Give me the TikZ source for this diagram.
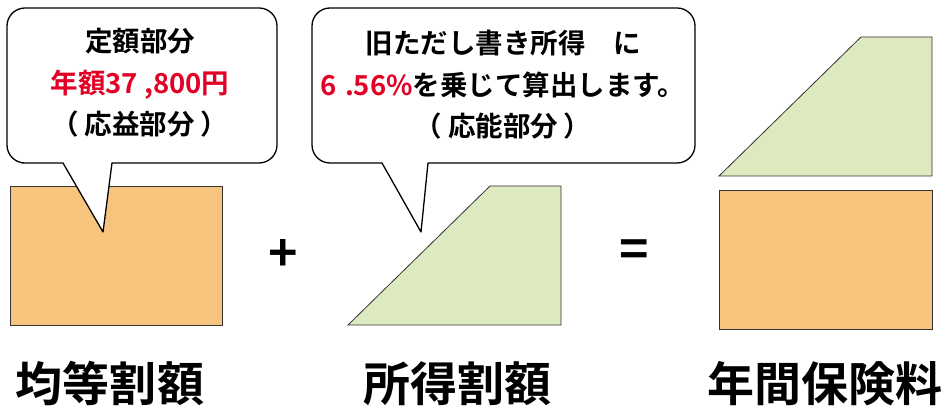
\documentclass[tikz,border=0pt]{standalone}
\usepackage{fontspec}
\setmainfont{Noto Sans CJK JP}[BoldFont={Noto Sans CJK JP Bold}]
\definecolor{boxorange}{RGB}{247,196,125}
\definecolor{boxgreen}{RGB}{221,233,191}
\definecolor{accentred}{RGB}{226,0,38}
\tikzset{
  callout/.style={draw=black, line width=1.3pt, fill=white, line join=round},
  orangepart/.style={draw=black!80, line width=0.8pt, fill=boxorange},
  greenpart/.style={draw=black!80, line width=0.8pt, fill=boxgreen},
  calltext/.style={align=center, inner sep=0pt, font=\bfseries\fontsize{27.5}{41.5}\selectfont},
  caption/.style={inner sep=0pt, font=\bfseries\fontsize{47}{50}\selectfont},
  opsign/.style={inner sep=0pt, font=\bfseries\fontsize{50}{54}\selectfont}
}
\begin{document}
\begin{tikzpicture}[x=1pt,y=1pt]
\useasboundingbox (0,0) rectangle (947,409);
% left: flat-rate part
\draw[orangepart] (10,84) rectangle (222,223);
\draw[callout] (63,246) -- (103,177) -- (112,246) -- (120,246)
  [rounded corners=18pt] -- (277,246) -- (277,401) -- (7,401) -- (7,246) -- (40,246)
  [sharp corners] -- cycle;
\node[calltext] (c1) at (140,326)
  {定額部分\\ \textcolor{accentred}{年額37\kern6pt,800円}\\（\kern6pt 応益部分\kern6pt ）};
% plus
\node[opsign] (plus) at (283,153) {+};
% middle: income-based part
\draw[greenpart] (348,84) -- (490,223) -- (561,223) -- (561,84) -- cycle;
\draw[callout] (382,246) -- (421,177) -- (428,246) -- (440,246)
  [rounded corners=18pt] -- (695,246) -- (695,401) -- (312,401) -- (312,246) -- (350,246)
  [sharp corners] -- cycle;
\node[calltext] (c2) at (503,324)
  {旧ただし書き所得　に\\ \textcolor{accentred}{6\kern8pt.56\%}を乗じて算出します。\\（\kern6pt 応能部分\kern6pt ）};
% equals
\node[opsign] (eq) at (634,155) {=};
% right: annual premium
\draw[greenpart] (719,233) -- (861,372) -- (932,372) -- (932,233) -- cycle;
\draw[orangepart] (719,80) rectangle (932,219);
% captions
\node[caption] (l1) at (110,25) {均等割額};
\node[caption] (l2) at (457,25) {所得割額};
\node[caption] (l3) at (825,25) {年間保険料};
\end{tikzpicture}
\end{document}
